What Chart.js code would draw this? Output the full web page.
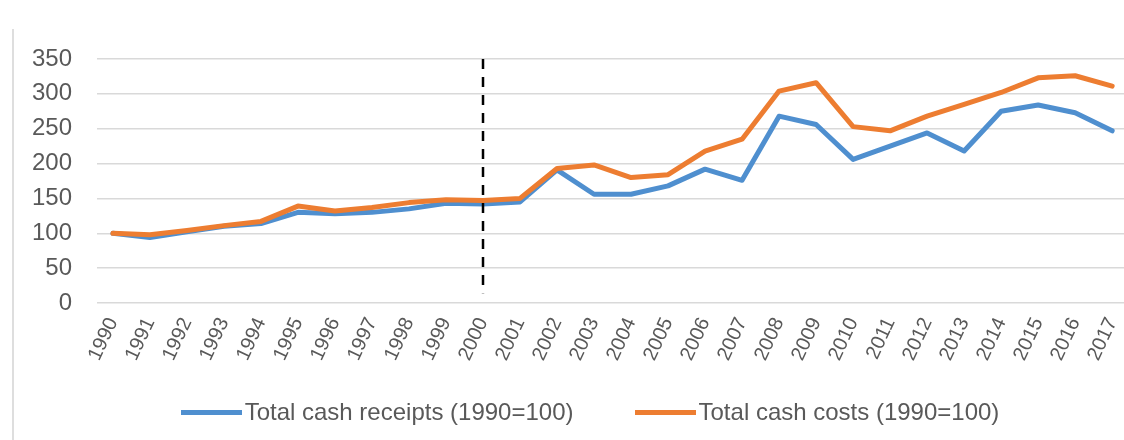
<!DOCTYPE html>
<html>
<head>
<meta charset="utf-8">
<title>Total cash receipts and costs</title>
<script src="https://cdn.jsdelivr.net/npm/chart.js@4.4.1/dist/chart.umd.min.js"></script>
<style>
  html, body { margin: 0; background: #fff; overflow: hidden; }
  #wrap { position: relative; width: 1124px; height: 440px; font-family: 'Liberation Sans', Arial, sans-serif; }
  #frame { position: absolute; left: 12px; top: 29px; bottom: 0; width: 2px; background: #dedede; }
  #legend { position: absolute; left: 0; width: 1180px; top: 397px; display: flex; justify-content: center;
            font-size: 24px; line-height: 30px; color: #595959; }
  #legend .item { display: flex; align-items: center; white-space: nowrap; }
  #legend .item + .item { margin-left: 61px; }
  #legend .swatch { width: 61px; height: 5px; margin-right: 3px; }
</style>
</head>
<body>
<div id="wrap">
  <canvas id="lineChart" width="1124" height="440"></canvas>
  <div id="frame"></div>
  <div id="legend"></div>
</div>
<script>
var years = [1990, 1991, 1992, 1993, 1994, 1995, 1996, 1997, 1998, 1999,
             2000, 2001, 2002, 2003, 2004, 2005, 2006, 2007, 2008, 2009,
             2010, 2011, 2012, 2013, 2014, 2015, 2016, 2017];

// index, 1990 = 100
var receipts = [100, 94, 102, 110, 114, 130, 128, 130, 135, 143,
                142, 145, 191, 156, 156, 168, 192, 176, 268, 256,
                206, 225, 244, 218, 275, 284, 273, 247];
var costs = [100, 98, 104, 111, 117, 139, 132, 137, 144, 148,
             147, 150, 193, 198, 180, 184, 218, 235, 304, 316,
             253, 247, 268, 285, 302, 323, 326, 311];

var yTicks = [0, 50, 100, 150, 200, 250, 300, 350];
var breakYear = 2000;

var textColor = '#595959';
var font = 'Liberation Sans, Arial, sans-serif';

// vertical dashed marker at the break year
var breakLine = {
  id: 'breakLine',
  afterDatasetsDraw: function (chart) {
    var x = chart.scales.x.getPixelForValue(breakYear);
    var y = chart.scales.y;
    var c = chart.ctx;
    c.save();
    c.strokeStyle = '#000';
    c.lineWidth = 2.5;
    c.setLineDash([10, 8]);
    c.beginPath();
    c.moveTo(x, y.getPixelForValue(350));
    c.lineTo(x, y.getPixelForValue(14));
    c.stroke();
    c.restore();
  }
};

var ctx = document.getElementById('lineChart').getContext('2d');
var chart = new Chart(ctx, {
  type: 'line',
  data: {
    datasets: [{
      label: 'Total cash receipts (1990=100)',
      data: years.map(function (yr, i) { return { x: yr, y: receipts[i] }; }),
      borderColor: '#4F8FCF',
      backgroundColor: '#4F8FCF',
      borderWidth: 5,
      order: 1
    }, {
      label: 'Total cash costs (1990=100)',
      data: years.map(function (yr, i) { return { x: yr, y: costs[i] }; }),
      borderColor: '#ED7D31',
      backgroundColor: '#ED7D31',
      borderWidth: 5,
      order: 0
    }]
  },
  options: {
    responsive: false,
    animation: false,
    layout: { padding: { left: 30, top: 59, right: 0, bottom: 62 } },
    elements: {
      point: { radius: 0 },
      line: { tension: 0, borderJoinStyle: 'round', borderCapStyle: 'round' }
    },
    scales: {
      x: {
        type: 'linear',
        min: 1989.57,
        max: 2017.32,
        grid: { display: false },
        border: { display: false },
        afterBuildTicks: function (axis) {
          axis.ticks = years.map(function (v) { return { value: v }; });
        },
        afterFit: function (axis) {
          axis.height = 75;
          axis.paddingLeft = 0;
          axis.paddingRight = 0;
        },
        ticks: {
          autoSkip: false,
          minRotation: 65,
          maxRotation: 65,
          padding: 3,
          color: textColor,
          font: { family: font, size: 20 },
          callback: function (v) { return String(v); }
        }
      },
      y: {
        min: 0,
        max: 350,
        afterBuildTicks: function (axis) {
          axis.ticks = yTicks.map(function (v) { return { value: v }; });
        },
        afterFit: function (axis) { axis.width = 67; },
        grid: { color: '#d9d9d9', lineWidth: 1.5, drawTicks: false },
        border: { display: false },
        ticks: {
          padding: 25,
          color: textColor,
          font: { family: font, size: 24 }
        }
      }
    },
    plugins: {
      tooltip: { enabled: false },
      legend: { display: false }
    }
  },
  plugins: [breakLine]
});

// legend below the plot, one entry per dataset
var legendBox = document.getElementById('legend');
chart.data.datasets.forEach(function (ds) {
  var item = document.createElement('div');
  item.className = 'item';
  var sw = document.createElement('span');
  sw.className = 'swatch';
  sw.style.background = ds.borderColor;
  var label = document.createElement('span');
  label.textContent = ds.label;
  item.appendChild(sw);
  item.appendChild(label);
  legendBox.appendChild(item);
});
</script>
</body>
</html>
